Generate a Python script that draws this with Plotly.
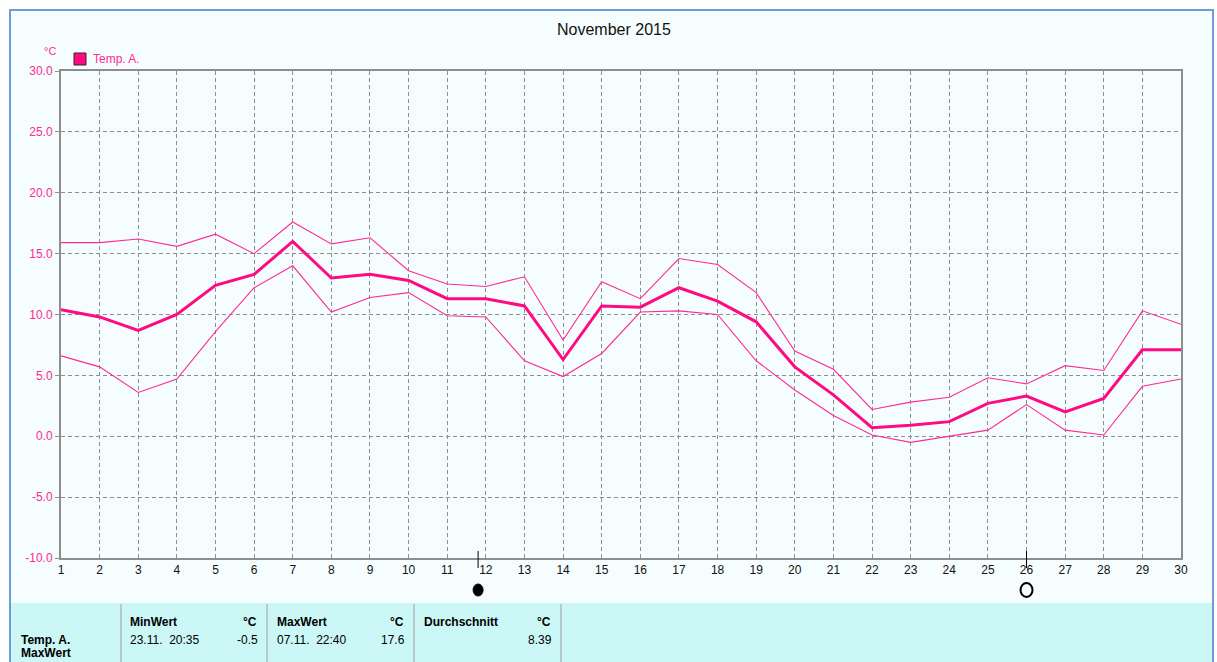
import plotly.graph_objects as go

days = list(range(1, 31))
temp_mean = [10.4, 9.8, 8.7, 10.0, 12.4, 13.3, 16.0, 13.0, 13.3, 12.8,
             11.3, 11.3, 10.7, 6.3, 10.7, 10.6, 12.2, 11.1, 9.4, 5.7,
             3.4, 0.7, 0.9, 1.2, 2.7, 3.3, 2.0, 3.1, 7.1, 7.1]
temp_max = [15.9, 15.9, 16.2, 15.6, 16.6, 15.0, 17.6, 15.8, 16.3, 13.6,
            12.5, 12.3, 13.1, 7.9, 12.7, 11.3, 14.6, 14.1, 11.8, 7.0,
            5.5, 2.2, 2.8, 3.2, 4.8, 4.3, 5.8, 5.4, 10.3, 9.2]
temp_min = [6.6, 5.7, 3.6, 4.7, 8.6, 12.2, 14.0, 10.2, 11.4, 11.8,
            9.9, 9.8, 6.2, 4.9, 6.8, 10.2, 10.3, 10.0, 6.2, 3.8,
            1.7, 0.1, -0.5, 0.0, 0.5, 2.6, 0.5, 0.1, 4.1, 4.7]
y_ticks = [30, 25, 20, 15, 10, 5, 0, -5, -10]
new_moon_day = [11.8]
full_moon_day = [26.0]

title_text = "November 2015"
series_name = "Temp. A."
unit = "°C"
table_header = ["MinWert", "°C", "MaxWert", "°C", "Durchschnitt", "°C"]
table_row = ["23.11.  20:35", "-0.5", "07.11.  22:40", "17.6", "8.39"]

W, H = 1217, 662
L, R, T, B = 61, 1181, 71, 558
PINK = "#FF0A82"
THIN_PINK = "#FF2A92"
LABEL_PINK = "#FF2A92"
GRID = "#8E8E8E"
FONT = "Liberation Sans"


def px(x):
    return (x - L) / (R - L)


def py(y):
    return (B - y) / (B - T)


fig = go.Figure()

for vals, width, col in [(temp_max, 1.1, THIN_PINK), (temp_min, 1.1, THIN_PINK),
                         (temp_mean, 3, PINK)]:
    fig.add_trace(go.Scatter(x=days, y=vals, mode="lines",
                             line=dict(color=col, width=width),
                             showlegend=False, hoverinfo="x+y"))

shapes = []
# outer frame
shapes.append(dict(type="rect", xref="paper", yref="paper",
                   x0=px(10), x1=px(1213), y0=py(680), y1=py(10),
                   line=dict(color="#6F9BD6", width=2), fillcolor="#F6FDFE",
                   layer="below"))
# bottom table
shapes.append(dict(type="rect", xref="paper", yref="paper",
                   x0=px(11), x1=px(1212), y0=py(670), y1=py(603),
                   line=dict(width=0), fillcolor="#CBF7F6", layer="below"))
for cx in [121, 267, 414, 561]:
    shapes.append(dict(type="line", xref="paper", yref="paper",
                       x0=px(cx), x1=px(cx), y0=py(662), y1=py(604),
                       line=dict(color="#A0A0A0", width=1)))
# moon tick lines and moon symbols
for d in new_moon_day + full_moon_day:
    shapes.append(dict(type="line", xref="x", yref="paper",
                       x0=d, x1=d, y0=py(568), y1=py(551),
                       line=dict(color="black", width=1)))
for d in new_moon_day:
    shapes.append(dict(type="circle", xref="x", yref="paper",
                       xsizemode="pixel", ysizemode="pixel",
                       xanchor=d, yanchor=py(590),
                       x0=-5, x1=5, y0=-6, y1=6,
                       line=dict(color="black", width=1), fillcolor="black"))
for d in full_moon_day:
    shapes.append(dict(type="circle", xref="x", yref="paper",
                       xsizemode="pixel", ysizemode="pixel",
                       xanchor=d, yanchor=py(590),
                       x0=-6, x1=6, y0=-7, y1=7,
                       line=dict(color="black", width=2), fillcolor="rgba(0,0,0,0)"))
# legend square
shapes.append(dict(type="rect", xref="paper", yref="paper",
                   x0=px(74), x1=px(86), y0=py(65), y1=py(53),
                   line=dict(color="#3A2030", width=1), fillcolor=PINK))

annotations = [
    dict(text=title_text, x=px(614), y=py(30), xref="paper", yref="paper",
         yanchor="middle", showarrow=False,
         font=dict(family=FONT, size=16, color="#111")),
    dict(text=unit, x=px(42), y=py(51), xref="paper", yref="paper",
         yanchor="middle", showarrow=False,
         font=dict(family=FONT, size=11, color=LABEL_PINK)),
    dict(text=series_name, x=px(91), y=py(59), xref="paper", yref="paper",
         xanchor="left", yanchor="middle", showarrow=False,
         font=dict(family=FONT, size=12, color=LABEL_PINK)),
]


def tbl(text, x, y, bold=False, anchor="left"):
    t = f"<b>{text}</b>" if bold else text
    annotations.append(dict(text=t, x=px(x), y=py(y), xref="paper", yref="paper",
                            xanchor=anchor, yanchor="middle", showarrow=False,
                            font=dict(family=FONT, size=12, color="#000")))


tbl(table_header[0], 128, 622, True)
tbl(table_header[1], 259, 622, True, "right")
tbl(table_header[2], 275, 622, True)
tbl(table_header[3], 406, 622, True, "right")
tbl(table_header[4], 422, 622, True)
tbl(table_header[5], 553, 622, True, "right")
tbl(series_name, 19, 640, True)
tbl(table_row[0], 128, 640)
tbl(table_row[1], 260, 640, anchor="right")
tbl(table_row[2], 275, 640)
tbl(table_row[3], 407, 640, anchor="right")
tbl(table_row[4], 554, 640, anchor="right")
tbl("MaxWert", 19, 653, True)

fig.update_layout(
    width=W, height=H,
    margin=dict(l=L, r=W - R, t=T, b=H - B),
    paper_bgcolor="white", plot_bgcolor="rgba(0,0,0,0)",
    shapes=shapes, annotations=annotations,
    showlegend=False,
    xaxis=dict(range=[1, 30], tickvals=days, ticktext=[str(d) for d in days],
               showgrid=True, gridcolor=GRID, griddash="4px,3px", gridwidth=1,
               showline=True, linecolor=GRID, linewidth=2, mirror=True,
               ticks="", zeroline=False,
               tickfont=dict(family=FONT, size=12, color="#111")),
    yaxis=dict(range=[-10, 30], tickvals=y_ticks,
               ticktext=[f"{v:.1f}" for v in y_ticks],
               showgrid=True, gridcolor=GRID, griddash="4px,3px", gridwidth=1,
               showline=True, linecolor=GRID, linewidth=2, mirror=True,
               ticks="outside", ticklen=4, tickcolor=GRID, zeroline=False,
               tickfont=dict(family=FONT, size=12, color=LABEL_PINK)),
)

fig.write_html("out.html", config={"displayModeBar": False},
               post_script="document.body.style.margin='0';document.body.style.overflow='hidden';")
